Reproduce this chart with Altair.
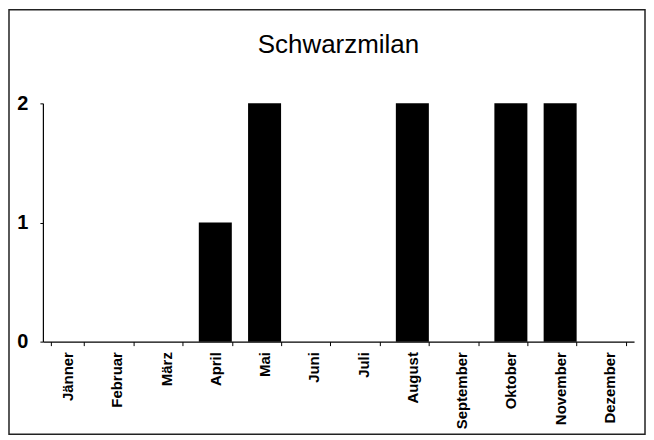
import altair as alt
import pandas as pd

months = ["Jänner", "Februar", "März", "April", "Mai", "Juni", "Juli",
          "August", "September", "Oktober", "November", "Dezember"]
counts = [0, 0, 0, 1, 2, 0, 0, 2, 0, 2, 2, 0]
y_ticks = [0, 1, 2]
title_text = "Schwarzmilan"

df = pd.DataFrame({"Monat": months, "Anzahl": counts})

W, H = 593, 239
PL, PT, PR, PB = 35, 95, 12, 94

bars = alt.Chart(df).mark_bar(color="black").encode(
    x=alt.X("Monat:N", sort=months,
            scale=alt.Scale(paddingInner=0.33, paddingOuter=0.165),
            axis=alt.Axis(title=None, labelAngle=-90, labelAlign="right",
                          labelBaseline="middle", labelFont="Liberation Sans",
                          labelFontSize=15, labelFontWeight="bold",
                          labelColor="black", labelPadding=6, labelOverlap=False,
                          tickBand="extent", tickSize=4, tickColor="black",
                          grid=False,
                          domainColor="black", domainWidth=1.2)),
    y=alt.Y("Anzahl:Q", scale=alt.Scale(domain=[0, 2], nice=False),
            axis=alt.Axis(title=None, values=y_ticks, grid=False,
                          labelExpr="'' + round(datum.value)",
                          labelOverlap=False, labelFlush=False,
                          labelFont="Liberation Sans", labelFontSize=20,
                          labelFontWeight="bold", labelColor="black",
                          labelPadding=12, tickSize=3, tickColor="black",
                          domainColor="black", domainWidth=1.2)),
)

one = pd.DataFrame({"t": [title_text]})
title = alt.Chart(one).mark_text(
    font="Liberation Sans", fontSize=26, color="black",
    align="center", baseline="alphabetic",
).encode(x=alt.value(W / 2), y=alt.value(-51), text="t:N")

frame = alt.Chart(one).mark_rect(fill=None, stroke="#222", strokeWidth=1.5).encode(
    x=alt.value(-PL + 1), x2=alt.value(W + PR - 1),
    y=alt.value(-PT + 1), y2=alt.value(H + PB - 1),
)

chart = alt.layer(bars, title, frame).properties(
    width=W, height=H,
    background="white",
    padding={"left": PL, "top": PT, "right": PR, "bottom": PB},
    autosize=alt.AutoSizeParams(type="none"),
).configure_view(strokeWidth=0, stroke="transparent"
).configure_axis(grid=False)

chart.save("out.html", embed_options={"renderer": "svg", "actions": False})
